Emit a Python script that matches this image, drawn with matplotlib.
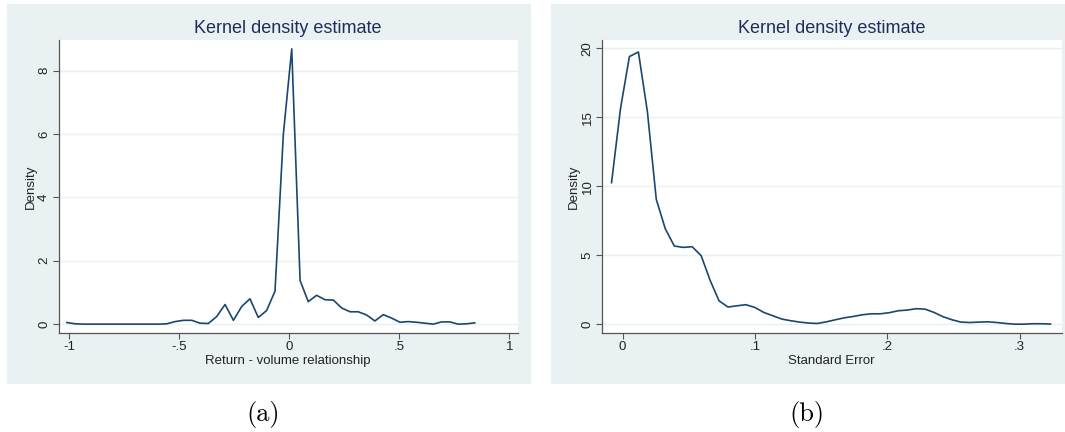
import matplotlib
matplotlib.use('Agg')
import matplotlib.pyplot as plt
from matplotlib.patches import Rectangle

# (a) return - volume relationship, kernel density
x_a = [-1.011, -0.973, -0.935, -0.898, -0.860, -0.822, -0.784, -0.746, -0.708, -0.670,
       -0.633, -0.595, -0.557, -0.519, -0.481, -0.443, -0.406, -0.368, -0.330, -0.292,
       -0.254, -0.216, -0.179, -0.141, -0.103, -0.065, -0.027, 0.011, 0.049, 0.086,
       0.124, 0.162, 0.200, 0.238, 0.276, 0.313, 0.351, 0.389, 0.427, 0.465,
       0.503, 0.540, 0.578, 0.616, 0.654, 0.692, 0.730, 0.767, 0.805, 0.843]
dens_a = [0.05, 0.01, 0.0, 0.0, 0.0, 0.0, 0.0, 0.0, 0.0, 0.0,
          0.0, 0.0, 0.01, 0.08, 0.12, 0.12, 0.03, 0.02, 0.24, 0.62,
          0.12, 0.56, 0.80, 0.21, 0.43, 1.04, 6.0, 8.69, 1.38, 0.71,
          0.91, 0.77, 0.76, 0.51, 0.39, 0.39, 0.29, 0.10, 0.30, 0.19,
          0.06, 0.08, 0.06, 0.03, 0.0, 0.07, 0.07, 0.0, 0.01, 0.04]
xticks_a = [-1, -0.5, 0, 0.5, 1]
xlabels_a = ['-1', '-.5', '0', '.5', '1']
yticks_a = [0, 2, 4, 6, 8]

# (b) standard error
x_b = [-0.0083, -0.0015, 0.0052, 0.0120, 0.0188, 0.0255, 0.0323, 0.0391, 0.0458, 0.0526,
       0.0594, 0.0661, 0.0729, 0.0797, 0.0864, 0.0932, 0.1000, 0.1067, 0.1135, 0.1203,
       0.1270, 0.1338, 0.1406, 0.1473, 0.1541, 0.1609, 0.1676, 0.1744, 0.1812, 0.1879,
       0.1947, 0.2015, 0.2082, 0.2150, 0.2218, 0.2285, 0.2353, 0.2421, 0.2488, 0.2556,
       0.2624, 0.2691, 0.2759, 0.2827, 0.2894, 0.2962, 0.3030, 0.3097, 0.3165, 0.3233]
dens_b = [10.27, 15.65, 19.4, 19.73, 15.4, 9.06, 6.93, 5.68, 5.58, 5.63,
          4.98, 3.21, 1.71, 1.26, 1.35, 1.43, 1.23, 0.87, 0.63, 0.39,
          0.27, 0.17, 0.10, 0.07, 0.19, 0.34, 0.48, 0.58, 0.70, 0.77,
          0.77, 0.85, 0.99, 1.04, 1.14, 1.11, 0.87, 0.56, 0.34, 0.17,
          0.14, 0.17, 0.19, 0.14, 0.07, 0.02, 0.02, 0.05, 0.05, 0.03]
xticks_b = [0, 0.1, 0.2, 0.3]
xlabels_b = ['0', '.1', '.2', '.3']
yticks_b = [0, 5, 10, 15, 20]

W, H = 1065, 432
bg = '#e9f1f2'
navy = '#1a476f'
title_col = '#1f2d5c'

plt.rcParams['font.family'] = ['Liberation Sans', 'DejaVu Sans']

fig = plt.figure(figsize=(W / 100, H / 100), dpi=100)


def px_rect(x0, y0, x1, y1):
    # pixel box (top-left origin) -> figure fraction [l, b, w, h]
    return [x0 / W, (H - y1) / H, (x1 - x0) / W, (y1 - y0) / H]


def panel(box, axbox, x, y, xticks, xlabels, yticks, xlim, ylim, xlabel, caption, cap_x):
    l, b, w, h = px_rect(*box)
    fig.patches.append(Rectangle((l, b), w, h, transform=fig.transFigure,
                                 facecolor=bg, edgecolor='none', zorder=-5))
    ax = fig.add_axes(px_rect(*axbox))
    ax.set_zorder(2)
    ax.set_facecolor('white')
    ax.plot(x, y, color=navy, lw=1.2, zorder=3)
    ax.set_xlim(*xlim)
    ax.set_ylim(*ylim)
    ax.set_xticks(xticks)
    ax.set_xticklabels(xlabels)
    ax.set_yticks(yticks)
    ax.set_yticklabels([str(t) for t in yticks], rotation=90, va='center')
    ax.grid(axis='y', color='#e8f0f2', lw=1.0)
    ax.set_axisbelow(True)
    for s in ['top', 'right']:
        ax.spines[s].set_visible(False)
    for s in ['left', 'bottom']:
        ax.spines[s].set_color('#555555')
        ax.spines[s].set_linewidth(0.9)
    ax.tick_params(direction='out', length=4, width=0.8, color='#555555',
                   labelsize=9.5, labelcolor='#222222', pad=2)
    ax.set_xlabel(xlabel, fontsize=9.5, color='#222222', labelpad=1)
    ax.set_ylabel('Density', fontsize=9.5, color='#222222', labelpad=1)
    ax.set_title('Kernel density estimate', fontsize=13, color=title_col, pad=5)
    fig.text(cap_x / W, 1 - 414 / H, caption, family='cmr10', fontsize=19,
             ha='center', va='center')
    return ax


panel((7, 4, 531, 384), (58.5, 40, 517.7, 333), x_a, dens_a, xticks_a, xlabels_a, yticks_a,
      (-1.049, 1.038), (-0.28, 8.97), 'Return - volume relationship', '(a)', 263)
panel((551, 4, 1065, 384), (602, 40, 1061.5, 333), x_b, dens_b, xticks_b, xlabels_b, yticks_b,
      (-0.0155, 0.3316), (-0.62, 20.6), 'Standard Error', '(b)', 807)

fig.savefig('out.png', dpi=100, facecolor='white')
